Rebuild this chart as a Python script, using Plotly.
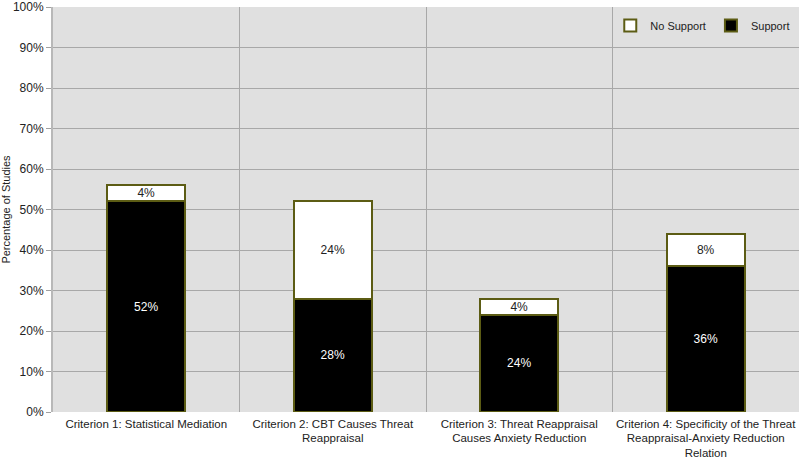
import plotly.graph_objects as go

categories = [
    "Criterion 1: Statistical Mediation",
    "Criterion 2: CBT Causes Threat<br>Reappraisal",
    "Criterion 3: Threat Reappraisal<br>Causes Anxiety Reduction",
    "Criterion 4: Specificity of the Threat<br>Reappraisal-Anxiety Reduction<br>Relation",
]
support = [52, 28, 24, 36]
no_support = [4, 24, 4, 8]
y_ticks = list(range(0, 101, 10))
y_tick_labels = [f"{v}%" for v in y_ticks]

outline = dict(color="#5c5c14", width=2)
FONT = "Liberation Sans, Arial"

fig = go.Figure()
fig.add_trace(go.Bar(
    name="Support", x=categories, y=support,
    marker=dict(color="black", line=outline),
    text=[f"{v}%" for v in support], textposition="inside",
    insidetextanchor="middle", constraintext="none",
    textfont=dict(color="white", size=12, family=FONT),
    width=0.42,
))
fig.add_trace(go.Bar(
    name="No Support", x=categories, y=no_support,
    marker=dict(color="white", line=outline),
    text=[f"{v}%" for v in no_support], textposition="inside",
    insidetextanchor="middle", constraintext="none",
    textfont=dict(color="#222222", size=12, family=FONT),
    width=0.42,
))

fig.update_layout(
    barmode="stack",
    width=800, height=458,
    margin=dict(l=53, r=1, t=7, b=46, autoexpand=False),
    plot_bgcolor="#e0e0e0",
    paper_bgcolor="white",
    font=dict(family=FONT, size=12, color="#222222"),
    legend=dict(
        orientation="h", x=0.995, y=0.99, xanchor="right", yanchor="top",
        bgcolor="rgba(0,0,0,0)", traceorder="reversed",
        font=dict(size=11), itemwidth=30, tracegroupgap=0,
    ),
    showlegend=True,
)
fig.update_xaxes(
    tickson="boundaries", showgrid=True, gridcolor="#a8a8a8", gridwidth=1,
    ticks="", showline=False, tickfont=dict(size=11.5), tickangle=0,
    automargin=False, ticklabelstandoff=3,
)
fig.update_yaxes(
    range=[0, 100], tickvals=y_ticks, ticktext=y_tick_labels,
    showgrid=True, gridcolor="#a8a8a8", gridwidth=1,
    ticks="outside", ticklen=5, tickcolor="#a0a0a0",
    showline=True, linecolor="#b8b8b8", linewidth=2,
    zeroline=False, automargin=False, ticklabeloverflow="allow",
    title=dict(text="Percentage of Studies", font=dict(size=11), standoff=4),
    tickfont=dict(size=12),
)

fig.write_html(
    "out.html",
    config={"displayModeBar": False},
    post_script="document.body.style.margin='0';document.body.style.padding='0';",
)
